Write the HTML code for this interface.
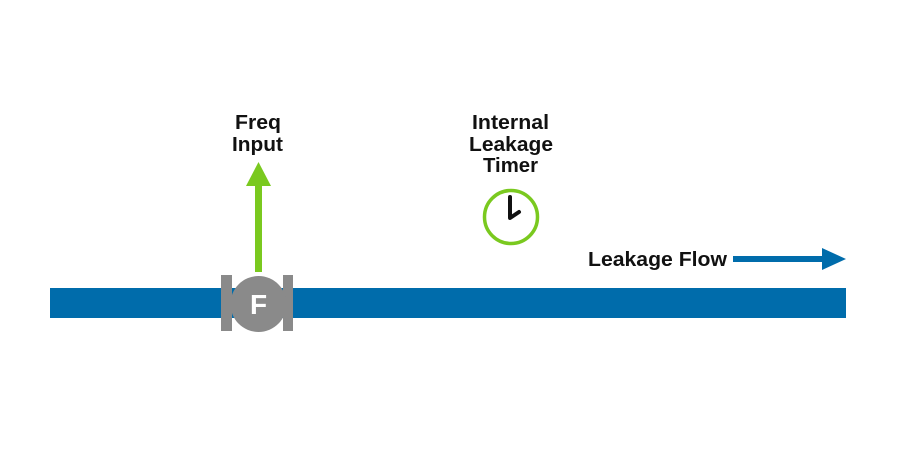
<!DOCTYPE html>
<html><head><style>
html,body{margin:0;padding:0;background:#fff;width:900px;height:450px;overflow:hidden}
</style></head><body>
<svg width="900" height="450" viewBox="0 0 900 450" xmlns="http://www.w3.org/2000/svg" font-family="Liberation Sans, Arial, sans-serif" font-weight="bold" font-size="20">
<rect x="50" y="288" width="796" height="30" fill="#006cab"/>
<rect x="221" y="275" width="11" height="56" fill="#8a8a8a"/>
<rect x="283" y="275" width="10" height="56" fill="#8a8a8a"/>
<circle cx="258.5" cy="304" r="28" fill="#8a8a8a"/>
<text x="258.5" y="314" text-anchor="middle" fill="#fff" font-size="28">F</text>
<rect x="255" y="184" width="7" height="88" fill="#7ac91f"/>
<polygon points="246,186 258.5,162 271,186" fill="#7ac91f"/>
<text x="235" y="129" textLength="46" lengthAdjust="spacingAndGlyphs" fill="#111">Freq</text>
<text x="232" y="151" textLength="51" lengthAdjust="spacingAndGlyphs" fill="#111">Input</text>
<text x="472" y="129" textLength="77" lengthAdjust="spacingAndGlyphs" fill="#111">Internal</text>
<text x="469" y="151" textLength="84" lengthAdjust="spacingAndGlyphs" fill="#111">Leakage</text>
<text x="483" y="172" textLength="55" lengthAdjust="spacingAndGlyphs" fill="#111">Timer</text>
<circle cx="511" cy="217" r="26.5" fill="none" stroke="#7ac91f" stroke-width="3.5"/>
<polyline points="510,197 510,218 519,212" fill="none" stroke="#111" stroke-width="4" stroke-linejoin="round" stroke-linecap="round"/>
<text x="588" y="266" textLength="139" lengthAdjust="spacingAndGlyphs" fill="#111">Leakage Flow</text>
<rect x="733" y="256" width="92" height="6" fill="#006cab"/>
<polygon points="822,248 846,259 822,270" fill="#006cab"/>
</svg>
</body></html>
